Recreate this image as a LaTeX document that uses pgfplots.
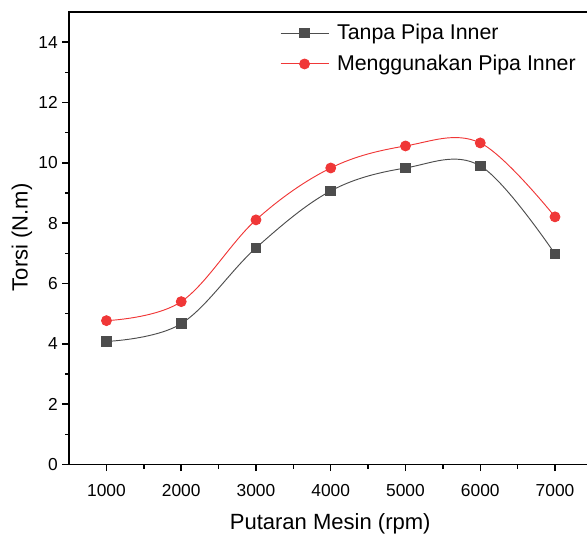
\documentclass[border=0pt]{standalone}
\usepackage{pgfplots}
\pgfplotsset{compat=1.18}
\usetikzlibrary{calc}
\usepackage{fontspec}
\setmainfont{Liberation Sans}
\definecolor{darkser}{RGB}{77,77,77}
\definecolor{redser}{RGB}{240,55,55}

\begin{document}
\begin{tikzpicture}
\begin{axis}[
  name=ax,
  scale only axis,
  width=392pt,
  height=339pt,
  xmin=500, xmax=7500,
  ymin=0, ymax=15,
  xtick={1000,2000,...,7000},
  ytick={0,2,...,14},
  minor x tick num=1,
  minor y tick num=1,
  xtick pos=bottom,
  ytick pos=left,
  tick align=outside,
  major tick length=5pt,
  minor tick length=3pt,
  tick style={black, line width=1.1pt},
  axis line style={line width=1.4pt},
  scaled x ticks=false,
  xticklabel style={/pgf/number format/1000 sep={}, yshift=-6pt},
  /pgf/number format/assume math mode=true,
  tick label style={font=\fontsize{13}{15}\selectfont},
  label style={font=\fontsize{16.5}{19}\selectfont},
  xlabel={Putaran Mesin (rpm)},
  ylabel={Torsi (N.m)},
  xlabel style={at={(rel axis cs:0.499,-0.130)}, anchor=center},
  ylabel style={at={(rel axis cs:-0.090,0.502)}, anchor=center},
  legend style={draw=none, fill=none, at={(rel axis cs:0.395,0.985)}, anchor=north west,
    font=\fontsize{16}{18}\selectfont, row sep=6pt},
  legend cell align=left,
  legend image code/.code={\draw[mark repeat=2,mark phase=2,#1] plot coordinates {(0pt,0pt) (18pt,0pt) (36pt,0pt)};},
]
\addplot[darkser, line width=0.7pt, smooth, tension=0.6, mark=square*, mark size=3.6pt, mark options={solid, fill=darkser, draw=darkser}]
  coordinates {(1000,4.08) (2000,4.67) (3000,7.18) (4000,9.07) (5000,9.83) (6000,9.90) (7000,6.98)};
\addlegendentry{\hspace{4pt}Tanpa Pipa Inner}
\addplot[redser, line width=0.7pt, smooth, tension=0.6, mark=*, mark size=3.7pt, mark options={solid, fill=redser, draw=redser}]
  coordinates {(1000,4.77) (2000,5.40) (3000,8.11) (4000,9.83) (5000,10.56) (6000,10.66) (7000,8.21)};
\addlegendentry{\hspace{4pt}Menggunakan Pipa Inner}
\coordinate (bl) at (rel axis cs:0,0);
\coordinate (tr) at (axis cs:7428,15);
\end{axis}
\pgfresetboundingbox
\useasboundingbox ($(bl)+(-51.75pt,-54.75pt)$) rectangle ($(tr)+(0pt,9pt)$);
\end{tikzpicture}
\end{document}
